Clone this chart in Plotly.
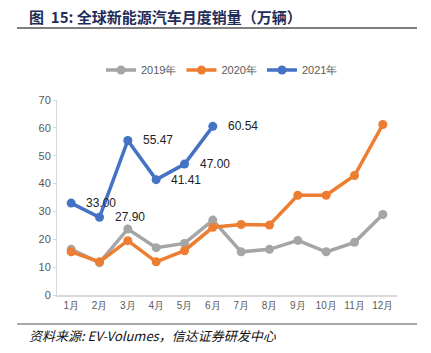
import plotly.graph_objects as go

months = ["1月", "2月", "3月", "4月", "5月", "6月", "7月", "8月", "9月", "10月", "11月", "12月"]
s2019 = [16.4, 11.6, 23.7, 17.0, 18.5, 26.9, 15.5, 16.4, 19.6, 15.5, 18.9, 28.9]
s2020 = [15.5, 11.9, 19.5, 11.9, 15.9, 24.3, 25.3, 25.1, 35.8, 35.8, 42.9, 61.2]
s2021 = [33.00, 27.90, 55.47, 41.41, 47.00, 60.54]
y_ticks = [0, 10, 20, 30, 40, 50, 60, 70]

W, H = 431, 353
L, R, T, B = 57, 34, 100, 58
pw, ph = W - L - R, H - T - B

def px(x):
    return (x - L) / pw

def py(y):
    return (H - B - y) / ph

fig = go.Figure()
for name, vals, col in [("2019年", s2019, "#A5A5A5"), ("2020年", s2020, "#ED7D31"), ("2021年", s2021, "#4472C4")]:
    fig.add_trace(go.Scatter(
        x=months[:len(vals)], y=vals, name=name, mode="lines+markers",
        line=dict(color=col, width=3.5), marker=dict(color=col, size=9),
    ))

for m, v in zip(months, s2021):
    fig.add_annotation(x=m, y=v, text=f"{v:.2f}", showarrow=False, xanchor="left",
                       xshift=13, font=dict(size=12, color="#222222", family="Liberation Sans"))

fig.add_annotation(xref="paper", yref="paper", x=px(27), y=py(17), xanchor="left", yanchor="middle",
                   text="<b>图  15: 全球新能源汽车月度销量（万辆）</b>", showarrow=False,
                   font=dict(size=15, color="#1F2D5A", family="Noto Sans CJK SC"))
fig.add_annotation(xref="paper", yref="paper", x=px(27), y=py(335), xanchor="left", yanchor="middle",
                   text="<i>资料来源: EV-Volumes，信达证券研发中心</i>", showarrow=False,
                   font=dict(size=13, color="#111111", family="Noto Sans CJK SC"))
fig.add_shape(type="line", xref="paper", yref="paper", x0=px(17), x1=px(417), y0=py(28), y1=py(28),
              line=dict(color="#555555", width=1.5))
fig.add_shape(type="line", xref="paper", yref="paper", x0=px(17), x1=px(417), y0=py(324), y1=py(324),
              line=dict(color="#555555", width=1))

fig.update_layout(
    width=W, height=H, margin=dict(l=L, r=R, t=T, b=B),
    paper_bgcolor="white", plot_bgcolor="white",
    font=dict(family="Liberation Sans", size=11, color="#595959"),
    showlegend=True,
    legend=dict(orientation="h", x=px(222), xanchor="center", y=py(70), yanchor="middle",
                font=dict(size=11, color="#595959"), itemwidth=30, tracegroupgap=0),
    xaxis=dict(type="category", range=[-0.5, 11.5], showline=True, linecolor="#D9D9D9", linewidth=2,
               ticks="", showgrid=False, tickfont=dict(size=10, color="#595959")),
    yaxis=dict(range=[0, 70], tickvals=y_ticks, showline=True, linecolor="#D9D9D9", linewidth=1,
               ticks="outside", ticklen=3, tickcolor="#D9D9D9", showgrid=False, zeroline=False,
               tickfont=dict(size=11, color="#595959")),
)

fig.write_html("out.html")
